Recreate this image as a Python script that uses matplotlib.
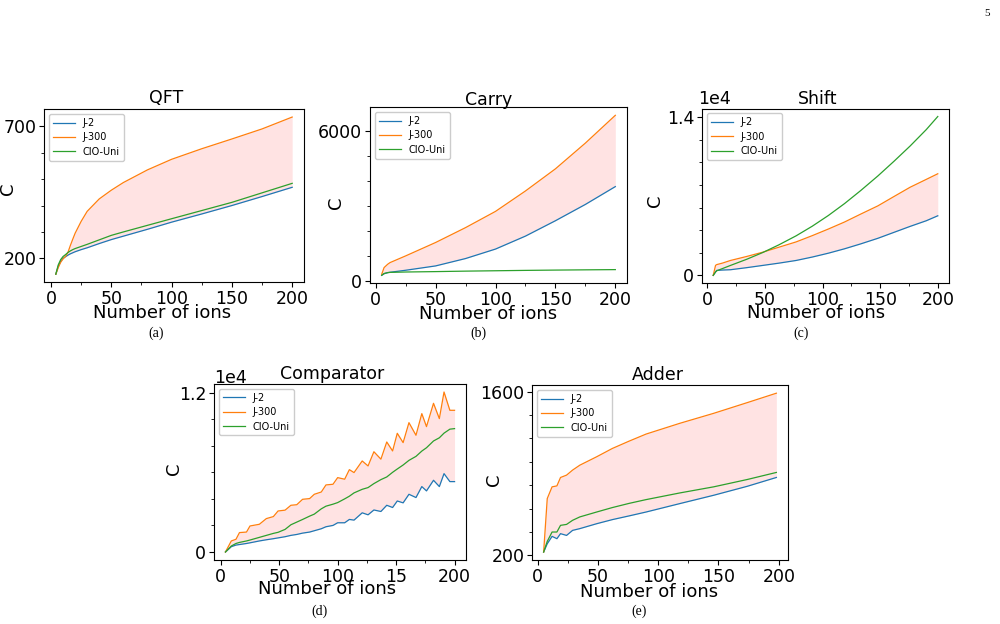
import matplotlib.pyplot as plt
from matplotlib.ticker import MultipleLocator

plt.rcParams['font.family'] = 'DejaVu Sans'

series_names = ['J-2', 'J-300', 'CIO-Uni']

# (a) QFT
qft_x = [4, 6, 8, 10, 12, 14, 16, 18, 20, 25, 30, 40, 50, 60, 80, 100, 125, 150, 175, 200]
qft_j2 = [140, 170, 188, 200, 206, 212, 217, 221, 225, 233, 240, 256, 271, 284, 310, 337, 368, 400, 434, 469]
qft_j300 = [140, 165, 185, 198, 207, 222, 248, 272, 295, 340, 378, 425, 458, 487, 535, 575, 615, 652, 690, 735]
qft_cio = [140, 175, 195, 207, 214, 222, 228, 233, 237, 245, 253, 270, 287, 300, 325, 350, 381, 412, 448, 484]

# (b) Carry
carry_x = [5, 7, 10, 12, 25, 50, 75, 100, 125, 150, 175, 200]
carry_j2 = [228, 290, 335, 350, 430, 604, 900, 1280, 1800, 2416, 3070, 3785]
carry_j300 = [268, 537, 671, 738, 1006, 1543, 2140, 2791, 3610, 4497, 5530, 6644]
carry_cio = [228, 300, 335, 345, 360, 376, 395, 410, 425, 437, 447, 456]

# (c) Shift
shift_x = [5, 7, 8, 13, 20, 34, 48, 62, 77, 91, 105, 119, 133, 148, 162, 176, 190, 200]
shift_j2 = [0, 300, 439, 470, 498, 680, 879, 1080, 1318, 1620, 1962, 2350, 2783, 3280, 3808, 4335, 4833, 5272]
shift_j300 = [0, 879, 950, 1084, 1318, 1670, 2050, 2490, 2960, 3515, 4101, 4720, 5419, 6151, 6980, 7800, 8494, 8992]
shift_cio = [0, 300, 400, 600, 879, 1420, 2020, 2700, 3500, 4350, 5300, 6350, 7500, 8800, 10100, 11450, 12900, 14059]

# (d) Comparator
cmp_x = [4, 9, 13, 16, 22, 25, 33, 39, 45, 49, 55, 60, 65, 70, 76, 80, 86, 90, 96, 100,
         106, 110, 114, 121, 126, 131, 137, 142, 147, 151, 156, 161, 167, 172, 176, 182,
         187, 191, 196, 200]
cmp_j2 = [0, 400, 520, 560, 640, 690, 830, 920, 1000, 1060, 1150, 1250, 1320, 1420, 1500,
          1600, 1750, 1900, 2000, 2200, 2200, 2450, 2400, 2950, 2800, 3163, 3050, 3517, 3350,
          3840, 3700, 4345, 4100, 4925, 4600, 5400, 4925, 5900, 5300, 5300]
cmp_j300 = [0, 830, 956, 1460, 1500, 1958, 2086, 2515, 2666, 3087, 3150, 3517, 3560, 3968,
            4020, 4345, 4518, 5050, 5100, 5600, 5480, 6200, 5980, 6855, 6480, 7550, 6990,
            8285, 7607, 8940, 8235, 9740, 8790, 10420, 9440, 11197, 10045, 12048, 10670, 10670]
cmp_cio = [0, 450, 640, 720, 830, 900, 1100, 1250, 1400, 1480, 1700, 2050, 2250, 2450, 2700,
           2850, 3250, 3450, 3600, 3720, 4000, 4200, 4450, 4720, 4850, 5150, 5450, 5650, 6000,
           6250, 6550, 6900, 7200, 7600, 7850, 8360, 8600, 8950, 9250, 9290]

# (e) Adder
add_x = [5, 8, 12, 16, 19, 24, 29, 35, 49, 62, 76, 90, 118, 146, 174, 198]
add_j2 = [229, 300, 363, 343, 386, 371, 414, 429, 471, 506, 538, 571, 643, 714, 791, 866]
add_j300 = [229, 686, 786, 794, 866, 886, 929, 971, 1043, 1114, 1177, 1237, 1329, 1414, 1506, 1586]
add_cio = [229, 320, 400, 400, 457, 465, 500, 529, 571, 609, 645, 677, 734, 786, 849, 909]

colors = ['#1f77b4', '#ff7f0e', '#2ca02c']

fig = plt.figure(figsize=(10, 6.24), dpi=100)


def panel(rect, title, x, j2, j300, cio, yticks, yticklabels, minor, ylab_x, ylab_y,
          xlab_x, xlab_y, title_x, title_y, xticklabels=None, offset=None):
    ax = fig.add_axes(rect)
    for ys, name, c in zip([j2, j300, cio], series_names, colors):
        ax.plot(x, ys, color=c, lw=0.9, label=name)
    ax.fill_between(x, j2, j300, color='red', alpha=0.11, lw=0)
    ax.set_xticks([0, 50, 100, 150, 200])
    if xticklabels is not None:
        ax.set_xticklabels(xticklabels)
    ax.xaxis.set_minor_locator(MultipleLocator(25))
    ax.set_yticks(yticks)
    ax.set_yticklabels(yticklabels)
    ax.yaxis.set_minor_locator(MultipleLocator(minor))
    ax.tick_params(labelsize=12.5, pad=2)
    ax.set_ylabel('C', fontsize=13)
    ax.yaxis.set_label_coords(ylab_x, ylab_y)
    ax.set_xlabel('Number of ions', fontsize=13)
    ax.xaxis.set_label_coords(xlab_x, xlab_y)
    ax.text(title_x, title_y, title, transform=ax.transAxes, ha='center',
            va='baseline', fontsize=12.5)
    if offset is not None:
        ax.text(offset[0], offset[1], '1e4', transform=ax.transAxes, ha='left',
                va='baseline', fontsize=12.5)
    ax.legend(loc='upper left', fontsize=7, handlelength=2.3, borderpad=0.4,
              labelspacing=0.45, framealpha=1)
    return ax


panel([0.044, 0.548, 0.260, 0.277], 'QFT', qft_x, qft_j2, qft_j300, qft_cio,
      [200, 700], ['200', '700'], 100, -0.104, 0.54, 0.455, -0.126, 0.47, 1.035)
panel([0.370, 0.546, 0.257, 0.282], 'Carry', carry_x, carry_j2, carry_j300, carry_cio,
      [0, 6000], ['0', '6000'], 1000, -0.097, 0.46, 0.46, -0.124, 0.46, 1.011)
panel([0.702, 0.546, 0.247, 0.280], 'Shift', shift_x, shift_j2, shift_j300, shift_cio,
      [0, 14000], ['0', '1.4'], 2000, -0.154, 0.47, 0.46, -0.12, 0.47, 1.029,
      offset=(-0.016, 1.029))
panel([0.214, 0.1026, 0.252, 0.282], 'Comparator', cmp_x, cmp_j2, cmp_j300, cmp_cio,
      [0, 12000], ['0', '1.2'], 2000, -0.123, 0.52, 0.45, -0.112, 0.47, 1.028,
      xticklabels=['0', '50', '100', '15', '200'], offset=(0.0, 1.006))
panel([0.532, 0.1026, 0.256, 0.280], 'Adder', add_x, add_j2, add_j300, add_cio,
      [200, 1600], ['200', '1600'], 200, -0.113, 0.46, 0.457, -0.132, 0.49, 1.029)

serif = 'Liberation Serif'
for lab, x, y in [('(a)', 156, 333), ('(b)', 478, 333), ('(c)', 801, 333),
                  ('(d)', 319, 611), ('(e)', 639, 611)]:
    fig.text(x / 1000, 1 - y / 624, lab, ha='center', va='center', fontsize=10,
             family=serif)
fig.text(987 / 1000, 1 - 13 / 624, '5', ha='center', va='center', fontsize=8, family=serif)

fig.savefig('out.png', dpi=100)
